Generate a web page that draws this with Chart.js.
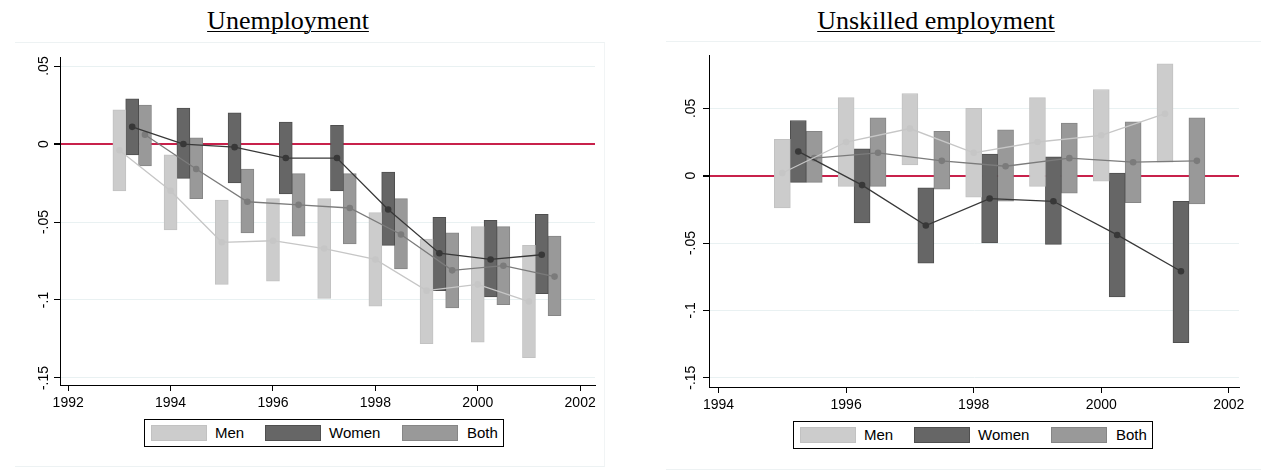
<!DOCTYPE html>
<html>
<head>
<meta charset="utf-8">
<script src="https://cdn.jsdelivr.net/npm/chart.js@4.4.1/dist/chart.umd.min.js"></script>
<style>
  body { margin: 0; background: #fff; font-family: "Liberation Sans", Arial, sans-serif; }
  #page { position: relative; width: 1261px; height: 471px; overflow: hidden; }
  .frame { position: absolute; border-top: 1px solid #edf2f3; border-bottom: 1px solid #edf2f3; box-sizing: border-box; }
  .title { position: absolute; top: 8px; width: 320px; text-align: center; white-space: nowrap;
           font-family: "Liberation Serif", "Times New Roman", serif; font-size: 26px; line-height: 26px;
           text-decoration: underline; text-decoration-thickness: 1px; text-underline-offset: 2px; }
  canvas { position: absolute; top: 0; }
  .legend { position: absolute; width: 360px; height: 28px; box-sizing: border-box; border: 1px solid #000; background: #fff; font-size: 15px; }
  .legend .sw { position: absolute; top: 5px; width: 56px; height: 16px; box-sizing: border-box; border: 1px solid; }
  .legend .lb { position: absolute; top: 4px; line-height: 18px; }
</style>
</head>
<body>
<div id="page">
  <div class="frame" style="left:15px;top:42px;width:590px;height:425px;border-right:1px solid #f1f4f5;"></div>
  <div class="frame" style="left:666px;top:41px;width:600px;height:429px;"></div>
  <div class="title" style="left:128px;">Unemployment</div>
  <div class="title" style="left:776px;">Unskilled employment</div>
  <canvas id="left" width="620" height="471" style="left:0;"></canvas>
  <canvas id="right" width="631" height="471" style="left:630px;"></canvas>
  <div class="legend" id="legLeft" style="left:144px;top:419px;"></div>
  <div class="legend" id="legRight" style="left:793px;top:421px;"></div>
</div>
<script>
const seriesNames = ['Men', 'Women', 'Both'];

// Unemployment panel
const unempYears = [1993, 1994, 1995, 1996, 1997, 1998, 1999, 2000, 2001];
const unempMenEst = [-0.004, -0.030, -0.063, -0.062, -0.067, -0.074, -0.094, -0.090, -0.101];
const unempMenLo  = [-0.030, -0.055, -0.090, -0.088, -0.099, -0.104, -0.128, -0.127, -0.137];
const unempMenHi  = [0.022, -0.007, -0.036, -0.035, -0.035, -0.044, -0.061, -0.053, -0.065];
const unempWomenEst = [0.011, 0.000, -0.002, -0.009, -0.009, -0.042, -0.070, -0.074, -0.071];
const unempWomenLo  = [-0.007, -0.022, -0.025, -0.032, -0.030, -0.065, -0.094, -0.098, -0.096];
const unempWomenHi  = [0.029, 0.023, 0.020, 0.014, 0.012, -0.018, -0.047, -0.049, -0.045];
const unempBothEst = [0.006, -0.016, -0.037, -0.039, -0.041, -0.058, -0.081, -0.078, -0.085];
const unempBothLo  = [-0.014, -0.035, -0.057, -0.059, -0.064, -0.080, -0.105, -0.103, -0.110];
const unempBothHi  = [0.025, 0.004, -0.016, -0.019, -0.019, -0.035, -0.057, -0.053, -0.059];
const unempXTicks = [1992, 1994, 1996, 1998, 2000, 2002];
const unempYTicks = [0.05, 0, -0.05, -0.1, -0.15];
const unempYLabels = ['.05', '0', '-.05', '-.1', '-.15'];

// Unskilled employment panel
const unskYears = [1995, 1996, 1997, 1998, 1999, 2000, 2001];
const unskMenEst = [0.002, 0.025, 0.035, 0.017, 0.025, 0.030, 0.046];
const unskMenLo  = [-0.024, -0.008, 0.008, -0.016, -0.008, -0.004, 0.010];
const unskMenHi  = [0.027, 0.058, 0.061, 0.050, 0.058, 0.064, 0.083];
const unskWomenEst = [0.018, -0.007, -0.037, -0.017, -0.019, -0.044, -0.071];
const unskWomenLo  = [-0.005, -0.035, -0.065, -0.050, -0.051, -0.090, -0.124];
const unskWomenHi  = [0.041, 0.020, -0.009, 0.016, 0.014, 0.002, -0.019];
const unskBothEst = [0.013, 0.017, 0.011, 0.007, 0.013, 0.010, 0.011];
const unskBothLo  = [-0.005, -0.008, -0.010, -0.019, -0.013, -0.020, -0.021];
const unskBothHi  = [0.033, 0.043, 0.033, 0.034, 0.039, 0.040, 0.043];
const unskXTicks = [1994, 1996, 1998, 2000, 2002];
const unskYTicks = [0.05, 0, -0.05, -0.1, -0.15];
const unskYLabels = ['.05', '0', '-.05', '-.1', '-.15'];

const fills = ['#cccccc', '#666666', '#999999'];
const edges = ['#c2c2c2', '#4f4f4f', '#868686'];
const lineColors = ['#c6c6c6', '#383838', '#7b7b7b'];
const offsets = [0, 0.25, 0.5];

// y tick labels are drawn turned on their side, like Stata does
const sideLabels = {
  id: 'sideLabels',
  afterDraw(chart, args, opts) {
    const s = chart.scales.y, c = chart.ctx;
    c.save();
    c.fillStyle = '#000';
    c.font = '14px "Liberation Sans", Arial, sans-serif';
    c.textAlign = 'center';
    c.textBaseline = 'middle';
    opts.values.forEach((v, i) => {
      c.save();
      c.translate(s.right - opts.gap, s.getPixelForValue(v));
      c.rotate(-Math.PI / 2);
      c.fillText(opts.labels[i], 0, 0);
      c.restore();
    });
    c.restore();
  }
};

function makePanel(id, p) {
  const datasets = [];
  p.series.forEach((s, i) => {
    datasets.push({
      type: 'bar',
      data: p.years.map((yr, j) => ({ x: yr + offsets[i], y: [s.lo[j], s.hi[j]] })),
      backgroundColor: fills[i],
      borderColor: edges[i],
      borderWidth: 1,
      borderSkipped: false,
      barThickness: p.barWidth,
      grouped: false,
      order: 1
    });
  });
  p.series.forEach((s, i) => {
    datasets.push({
      type: 'line',
      data: p.years.map((yr, j) => ({ x: yr + offsets[i], y: s.est[j] })),
      borderColor: lineColors[i],
      borderWidth: 1.3,
      pointRadius: 3.3,
      pointBorderWidth: 0,
      pointBackgroundColor: lineColors[i],
      tension: 0,
      order: 0
    });
  });

  new Chart(document.getElementById(id), {
    data: { datasets },
    options: {
      responsive: false,
      animation: false,
      devicePixelRatio: 1,
      layout: { padding: { top: p.top, right: p.right, left: 0, bottom: 0 } },
      plugins: {
        legend: { display: false },
        tooltip: { enabled: false },
        sideLabels: { values: p.yTicks, labels: p.yLabels, gap: p.labelGap }
      },
      scales: {
        x: {
          type: 'linear',
          min: p.xMin, max: p.xMax,
          offset: false,
          afterBuildTicks: s => { s.ticks = p.xTicks.map(v => ({ value: v })); },
          afterFit: s => { s.height = p.xHeight; },
          ticks: {
            color: '#000',
            padding: 4,
            font: { family: '"Liberation Sans", Arial, sans-serif', size: 14 },
            callback: v => String(v)
          },
          grid: { drawOnChartArea: false, offset: false, tickLength: 6, tickColor: '#000' },
          border: { color: '#000', width: 1 }
        },
        y: {
          type: 'linear',
          min: p.yMin, max: p.yMax,
          afterBuildTicks: s => { s.ticks = p.yTicks.map(v => ({ value: v })); },
          afterFit: s => { s.width = p.yWidth; },
          ticks: { display: false },
          grid: {
            color: c => c.tick && c.tick.value === 0 ? '#c8214b' : '#e9f1f2',
            lineWidth: c => c.tick && c.tick.value === 0 ? 2 : 1,
            tickLength: 6,
            tickColor: '#000'
          },
          border: { color: '#000', width: 1 }
        }
      }
    },
    plugins: [sideLabels]
  });
}

makePanel('left', {
  years: unempYears,
  series: [
    { est: unempMenEst, lo: unempMenLo, hi: unempMenHi },
    { est: unempWomenEst, lo: unempWomenLo, hi: unempWomenHi },
    { est: unempBothEst, lo: unempBothLo, hi: unempBothHi }
  ],
  xTicks: unempXTicks, yTicks: unempYTicks, yLabels: unempYLabels,
  xMin: 1991.84, xMax: 2002.29, yMin: -0.1545, yMax: 0.0558,
  top: 57, right: 25, yWidth: 60, xHeight: 86, barWidth: 13, labelGap: 16
});

makePanel('right', {
  years: unskYears,
  series: [
    { est: unskMenEst, lo: unskMenLo, hi: unskMenHi },
    { est: unskWomenEst, lo: unskWomenLo, hi: unskWomenHi },
    { est: unskBothEst, lo: unskBothLo, hi: unskBothHi }
  ],
  xTicks: unskXTicks, yTicks: unskYTicks, yLabels: unskYLabels,
  xMin: 1993.85, xMax: 2002.16, yMin: -0.1569, yMax: 0.0896,
  top: 55, right: 22, yWidth: 79, xHeight: 84, barWidth: 16, labelGap: 18
});

// legends: boxed, three swatches side by side
function makeLegend(id) {
  const box = document.getElementById(id);
  const swLeft = [6, 120, 257];
  const lbLeft = [70, 184, 322];
  seriesNames.forEach((name, i) => {
    const sw = document.createElement('span');
    sw.className = 'sw';
    sw.style.left = swLeft[i] + 'px';
    sw.style.background = fills[i];
    sw.style.borderColor = edges[i];
    box.appendChild(sw);
    const lb = document.createElement('span');
    lb.className = 'lb';
    lb.style.left = lbLeft[i] + 'px';
    lb.textContent = name;
    box.appendChild(lb);
  });
}
makeLegend('legLeft');
makeLegend('legRight');
</script>
</body>
</html>
